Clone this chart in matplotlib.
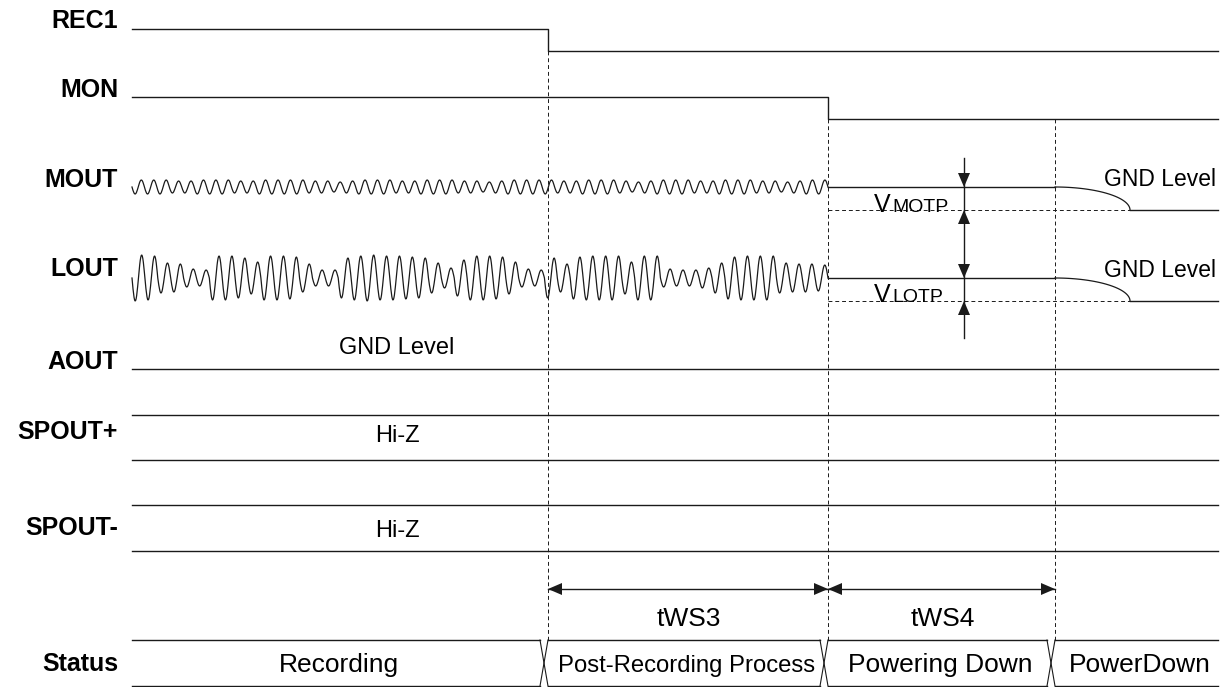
import numpy as np
import matplotlib
matplotlib.use("Agg")
import matplotlib.pyplot as plt

plt.rcParams['font.family'] = ['Liberation Sans', 'DejaVu Sans']

# ---------------- data ----------------
signals = ['REC1', 'MON', 'MOUT', 'LOUT', 'AOUT', 'SPOUT+', 'SPOUT-', 'Status']
t_start = 132
t_rec1_off = 548
t_mon_off = 828
t_powerdown = 1055
t_end = 1218
t_gnd_reached = 1130

status_states = ['Recording', 'Post-Recording Process', 'Powering Down', 'PowerDown']
status_bounds = [t_start, t_rec1_off, t_mon_off, t_powerdown, t_end]

timing_labels = ['tWS3', 'tWS4']
timing_spans = [(t_rec1_off, t_mon_off), (t_mon_off, t_powerdown)]

# per-cycle amplitudes of the audio waveforms (in px)
mout_amps = [7, 7, 7, 6, 6, 7, 7, 7, 6, 6, 7, 7, 7, 7, 6, 6, 5, 6, 7, 7,
             7, 6, 6, 7, 7, 7, 6, 6, 5, 6, 7, 7, 7, 7, 6, 6, 7, 7, 7, 6,
             5, 6, 7, 7, 7, 6, 6, 7, 7, 7, 6, 6, 5, 6, 7, 7]
lout_amps = [23, 22, 15, 14, 9, 8,
             22, 22, 20, 16, 22, 22, 21, 14, 8, 8,
             20, 22, 23, 22, 22, 21, 20, 15, 10,
             18, 22, 22, 21, 16, 9, 8,
             20, 14, 21, 22, 22, 22, 16, 22, 22,
             9, 8, 8, 10, 15, 21, 22, 22, 22, 15, 14, 14, 13]

# ---------------- layout (pixel space) ----------------
W, H = 1223, 687
fig = plt.figure(figsize=(W / 100, H / 100), dpi=100)
ax = fig.add_axes([0, 0, 1, 1])
ax.set_xlim(0, W)
ax.set_ylim(H, 0)
ax.axis('off')

LC = '#1a1a1a'
LW = 1.0
DASH = dict(color=LC, lw=0.7, linestyle=(0, (4, 3)))

label_x = 118
label_base = {'REC1': 28, 'MON': 97, 'MOUT': 187, 'LOUT': 276, 'AOUT': 369,
              'SPOUT+': 439, 'SPOUT-': 535, 'Status': 671}
for s in signals:
    ax.text(label_x, label_base[s], s, ha='right', va='baseline',
            fontsize=18, fontweight='bold', color='black')

# REC1
rec_hi, rec_lo = 29, 51
ax.plot([t_start, t_rec1_off, t_rec1_off, t_end], [rec_hi, rec_hi, rec_lo, rec_lo], color=LC, lw=LW)
# MON
mon_hi, mon_lo = 97, 119
ax.plot([t_start, t_mon_off, t_mon_off, t_end], [mon_hi, mon_hi, mon_lo, mon_lo], color=LC, lw=LW)


def draw_wave(center, amps, x0, x1, lw):
    n = len(amps)
    per = (x1 - x0) / n
    xs, ys = [], []
    for i, a in enumerate(amps):
        ph = np.linspace(0, 1, 25, endpoint=(i == n - 1))
        xs.append(x0 + (i + ph) * per)
        ys.append(center + a * np.sin(2 * np.pi * ph))
    ax.plot(np.concatenate(xs), np.concatenate(ys), color=LC, lw=lw)


def draw_level(center, gnd):
    ax.plot([t_mon_off, t_powerdown], [center, center], color=LC, lw=LW)
    tt = np.linspace(0, np.pi / 2, 60)
    ax.plot(t_powerdown + (t_gnd_reached - t_powerdown) * np.sin(tt),
            gnd - (gnd - center) * np.cos(tt), color=LC, lw=0.9)
    ax.plot([t_gnd_reached, t_end], [gnd, gnd], color=LC, lw=LW)
    ax.plot([t_mon_off, t_gnd_reached], [gnd, gnd], **DASH)


# MOUT
mout_c, mout_gnd = 187, 210
draw_wave(mout_c, mout_amps, t_start, t_mon_off, 0.9)
draw_level(mout_c, mout_gnd)
# LOUT
lout_c, lout_gnd = 278, 301
draw_wave(lout_c, lout_amps, t_start, t_mon_off, 0.9)
draw_level(lout_c, lout_gnd)

ax.text(1216, 186, 'GND Level', ha='right', va='baseline', fontsize=16.5)
ax.text(1216, 277, 'GND Level', ha='right', va='baseline', fontsize=16.5)

# V labels
ax.text(874, 212, 'V', ha='left', va='baseline', fontsize=18)
ax.text(892, 212, 'MOTP', ha='left', va='baseline', fontsize=14)
ax.text(874, 302, 'V', ha='left', va='baseline', fontsize=18)
ax.text(892, 302, 'LOTP', ha='left', va='baseline', fontsize=14)


def head(x, y, d, L=14, Wd=6, vertical=True):
    # d = +1 : pointing toward increasing coordinate
    if vertical:
        ax.fill([x - Wd, x + Wd, x], [y - d * L, y - d * L, y], color=LC, lw=0)
    else:
        ax.fill([x - d * L, x - d * L, x], [y - Wd, y + Wd, y], color=LC, lw=0)


ax_x = 964
ax.plot([ax_x, ax_x], [158, 338], color=LC, lw=LW)
head(ax_x, mout_c, +1)
head(ax_x, mout_gnd, -1)
head(ax_x, lout_c, +1)
head(ax_x, lout_gnd, -1)

# AOUT
aout_y = 369
ax.plot([t_start, t_end], [aout_y, aout_y], color=LC, lw=LW)
ax.text(397, 354, 'GND Level', ha='center', va='baseline', fontsize=17)

# SPOUT+/-
for (ya, yb), tb in [((415, 460), 442), ((505, 551), 537)]:
    ax.plot([t_start, t_end], [ya, ya], color=LC, lw=LW)
    ax.plot([t_start, t_end], [yb, yb], color=LC, lw=LW)
    ax.text(397, tb, 'Hi-Z', ha='center', va='baseline', fontsize=17)

# dashed verticals
bus_top, bus_bot = 640, 686
ax.plot([t_rec1_off, t_rec1_off], [rec_lo, bus_top], **DASH)
ax.plot([t_mon_off, t_mon_off], [mon_lo, bus_top], **DASH)
ax.plot([t_powerdown, t_powerdown], [mon_lo, bus_top], **DASH)

# timing arrows
arr_y = 589
for (a, b), lab in zip(timing_spans, timing_labels):
    ax.plot([a, b], [arr_y, arr_y], color=LC, lw=LW)
    head(a, arr_y, -1, L=14, Wd=6, vertical=False)
    head(b, arr_y, +1, L=14, Wd=6, vertical=False)
    ax.text((a + b) / 2 + 1, 626, lab, ha='center', va='baseline', fontsize=19)

# status bus
xw = 8
status_fs = [19, 17.2, 19, 19]
for i in range(len(status_states)):
    a = status_bounds[i]
    b = status_bounds[i + 1]
    b_end = b - xw if i < len(status_states) - 1 else b
    ax.plot([a, b_end], [bus_top, bus_top], color=LC, lw=LW)
    ax.plot([a, b_end], [bus_bot, bus_bot], color=LC, lw=LW)
    ax.text((a + b_end) / 2 + 3, 672, status_states[i], ha='center', va='baseline',
            fontsize=status_fs[i])
for b in status_bounds[1:-1]:
    ax.plot([b - xw, b], [bus_top, bus_bot], color=LC, lw=0.8)
    ax.plot([b - xw, b], [bus_bot, bus_top], color=LC, lw=0.8)

fig.savefig('out.png', dpi=100)
